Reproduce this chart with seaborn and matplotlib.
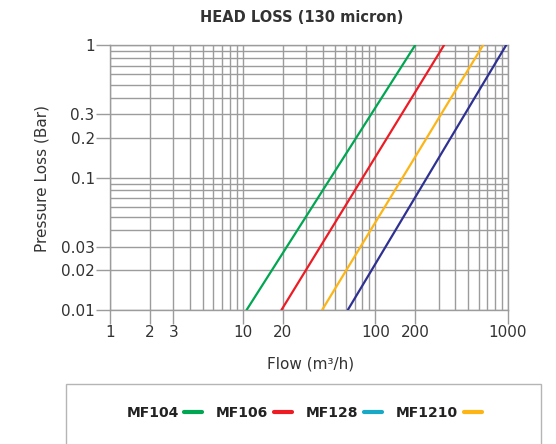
import numpy as np
import pandas as pd
import matplotlib
matplotlib.use("Agg")
import matplotlib.pyplot as plt
import seaborn as sns
from matplotlib.ticker import LogLocator, NullFormatter
from matplotlib.lines import Line2D
from matplotlib.patches import Rectangle

# ---- data ----
series = ["MF104", "MF106", "MF128", "MF1210"]
flow_start = [10.7, 19.6, 39.7, 62.0]
flow_end = [200.0, 330.0, 650.0, 970.0]
loss_start = [0.01, 0.01, 0.01, 0.01]
loss_end = [1.0, 1.0, 1.0, 1.0]
line_colors = ["#00a651", "#ed1c24", "#fdb515", "#2e3192"]
legend_labels = ["MF104", "MF106", "MF128", "MF1210"]
legend_colors = ["#00a651", "#ed1c24", "#17a9c6", "#fdb515"]
xtick_vals = [1, 2, 3, 10, 20, 100, 200, 1000]
xtick_labels = ["1", "2", "3", "10", "20", "100", "200", "1000"]
ytick_vals = [0.01, 0.02, 0.03, 0.1, 0.2, 0.3, 1]
ytick_labels = ["0.01", "0.02", "0.03", "0.1", "0.2", "0.3", "1"]

rows = []
for s, f0, f1, l0, l1 in zip(series, flow_start, flow_end, loss_start, loss_end):
    rows.append({"series": s, "flow": f0, "loss": l0})
    rows.append({"series": s, "flow": f1, "loss": l1})
df = pd.DataFrame(rows)

sns.set_theme(style="white")
plt.rcParams["font.family"] = ["DejaVu Sans"]
text_color = "#333333"
grid_color = "#9c9c9c"

fig = plt.figure(figsize=(5.56, 4.44), dpi=100)
W, H = 556, 444
ax = fig.add_axes([110 / W, 1 - 310 / H, (508 - 110) / W, (310 - 45) / H])

sns.lineplot(data=df, x="flow", y="loss", hue="series",
             palette=dict(zip(series, line_colors)), legend=False,
             estimator=None, sort=False, linewidth=1.6, ax=ax, zorder=3)

ax.set_xscale("log")
ax.set_yscale("log")
ax.set_xlim(1, 1000)
ax.set_ylim(0.01, 1)

ax.set_xticks(xtick_vals, labels=xtick_labels)
ax.set_yticks(ytick_vals, labels=ytick_labels)
ax.xaxis.set_minor_locator(LogLocator(base=10, subs=np.arange(2, 10), numticks=20))
ax.yaxis.set_minor_locator(LogLocator(base=10, subs=np.arange(2, 10), numticks=20))
ax.xaxis.set_minor_formatter(NullFormatter())
ax.yaxis.set_minor_formatter(NullFormatter())
ax.tick_params(which="minor", length=0)
ax.tick_params(which="major", length=10, width=1, color=grid_color,
               labelsize=11, labelcolor=text_color, pad=1, direction="out",
               bottom=True, left=True)
ax.grid(which="both", color=grid_color, linewidth=1.0, zorder=0)
ax.set_axisbelow(True)
for sp in ax.spines.values():
    sp.set_color(grid_color)
    sp.set_linewidth(1.0)

ax.set_xlabel("")
ax.set_ylabel("")

fig.text(302 / W, 1 - 18 / H, "HEAD LOSS (130 micron)", ha="center", va="center",
         fontsize=10.5, fontweight="bold", color=text_color)
fig.text(42 / W, 1 - 178 / H, "Pressure Loss (Bar)", ha="center", va="center",
         rotation=90, fontsize=11, color=text_color)
fig.text(311 / W, 1 - 364 / H, "Flow (m³/h)", ha="center", va="center",
         fontsize=11, color=text_color)

fig.patches.append(Rectangle((66 / W, -0.1), (541 - 66) / W, (444 - 384) / H + 0.1,
                             transform=fig.transFigure, fill=False,
                             edgecolor="#b5b5b5", linewidth=1.0))

handles = [Line2D([], [], color=c, linewidth=3) for c in legend_colors]
leg = fig.legend(handles, legend_labels, loc="center",
                 bbox_to_anchor=(304 / W, 1 - 413 / H), ncol=4, frameon=False,
                 markerfirst=False, handlelength=1.3, handletextpad=0.4,
                 columnspacing=1.0, prop={"weight": "bold", "size": 10})
for t in leg.get_texts():
    t.set_color("#222222")

fig.savefig("out.png", dpi=100)
